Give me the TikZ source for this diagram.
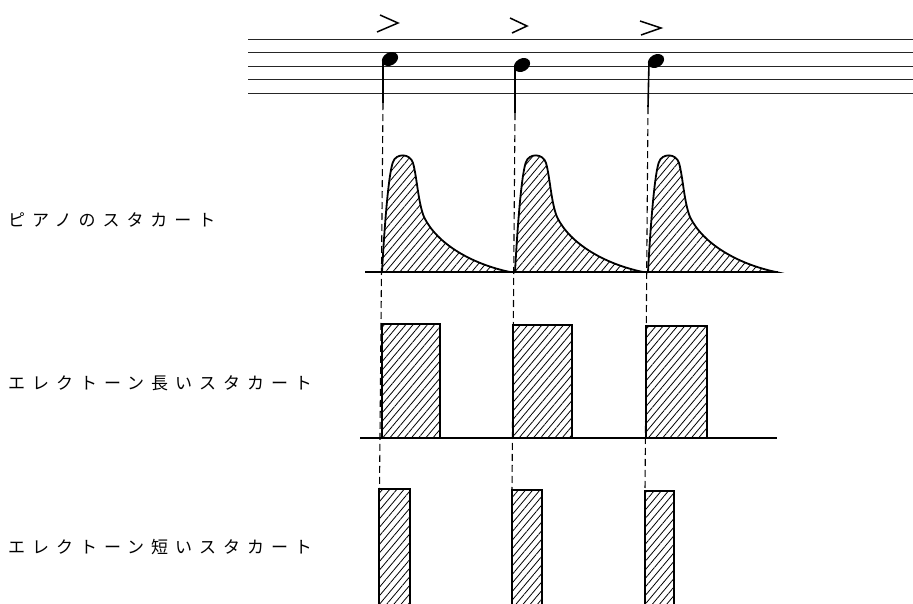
\documentclass[tikz,border=0pt]{standalone}
\usepackage{fontspec}
\newfontfamily\jpfont[LetterSpace=41]{Noto Sans CJK JP}
\usetikzlibrary{calc,patterns.meta}
\tikzset{
    staffline/.style={
        line width=1pt,
        color=black!85
    },
    stem/.style={
        line width=1.6pt
    },
    guide/.style={
        dash pattern=on 7pt off 4pt,
        line width=1.1pt
    },
    baseline/.style={
        line width=1.8pt
    },
    hatched/.style={
        line width=1.8pt,
        pattern={Lines[angle=50,distance=5.5pt,line width=0.8pt]}
    },
    accent/.style={
        line width=1.5pt
    },
    rowlabel/.style={
        anchor=west,
        inner sep=0pt,
        font=\jpfont\fontsize{17pt}{19pt}\selectfont
    }
}

\begin{document}
\begin{tikzpicture}[x=1pt,y=-1pt]

    \useasboundingbox (0,0) rectangle (913,603);

    % Staff
    \foreach \y in {39,52.5,66,79.5,93}
        \draw[staffline] (248,\y) -- (913,\y);

    % Accents
    \draw[accent] (380,15) -- (398,23) -- (377,32);
    \draw[accent] (510,18) -- (527,26) -- (512,33);
    \draw[accent] (640,21) -- (661,28) -- (641,35);

    % Notes
    \coordinate (n1) at (390,59);
    \coordinate (n2) at (522,65);
    \coordinate (n3) at (656,61);
    \foreach \n in {n1,n2,n3}
        \fill[rotate around={30:(\n)}] (\n) ellipse (8.6 and 6.4);

    % Stems
    \coordinate (s1) at (383,103);
    \coordinate (s2) at (515,113);
    \coordinate (s3) at (648,107);
    \draw[stem] ($(n1)+(-7,1)$) -- (s1);
    \draw[stem] ($(n2)+(-7,1)$) -- (s2);
    \draw[stem] ($(n3)+(-7,1)$) -- (s3);

    % Piano
    \foreach \x in {382,515,648}
        \draw[hatched,shift={(\x,272)}]
            (0,0) .. controls (3,-55) and (7,-100) .. (11,-110)
            .. controls (14,-119) and (28,-119) .. (31,-109)
            .. controls (35,-95) and (36,-70) .. (42,-55)
            .. controls (55,-28) and (90,-8) .. (128,0) -- cycle;
    \draw[baseline] (365,272) -- (778,272);

    % Long
    \draw[hatched] (382,438) rectangle (440,324);
    \draw[hatched] (513,438) rectangle (572,325);
    \draw[hatched] (646,438) rectangle (707,326);
    \draw[baseline] (360,438) -- (777,438);

    % Short
    \fill[pattern={Lines[angle=50,distance=5.5pt,line width=0.8pt]}]
        (379,610) rectangle (410,489)
        (512,610) rectangle (542,490)
        (645,610) rectangle (674,491);
    \draw[line width=1.8pt] (379,610) -- (379,489) -- (410,489) -- (410,610);
    \draw[line width=1.8pt] (512,610) -- (512,490) -- (542,490) -- (542,610);
    \draw[line width=1.8pt] (645,610) -- (645,491) -- (674,491) -- (674,610);

    % Guides
    \coordinate (g1) at (379.5,489);
    \coordinate (g2) at (512,490);
    \coordinate (g3) at (645,491);
    \draw[guide] (s1) -- (g1);
    \draw[guide] (s2) -- (g2);
    \draw[guide] (s3) -- (g3);

    % Labels
    \node[rowlabel] (piano) at (8,220) {ピアノのスタカート};
    \node[rowlabel] (long) at (8,383) {エレクトーン長いスタカート};
    \node[rowlabel] (short) at (8,547) {エレクトーン短いスタカート};

\end{tikzpicture}
\end{document}
